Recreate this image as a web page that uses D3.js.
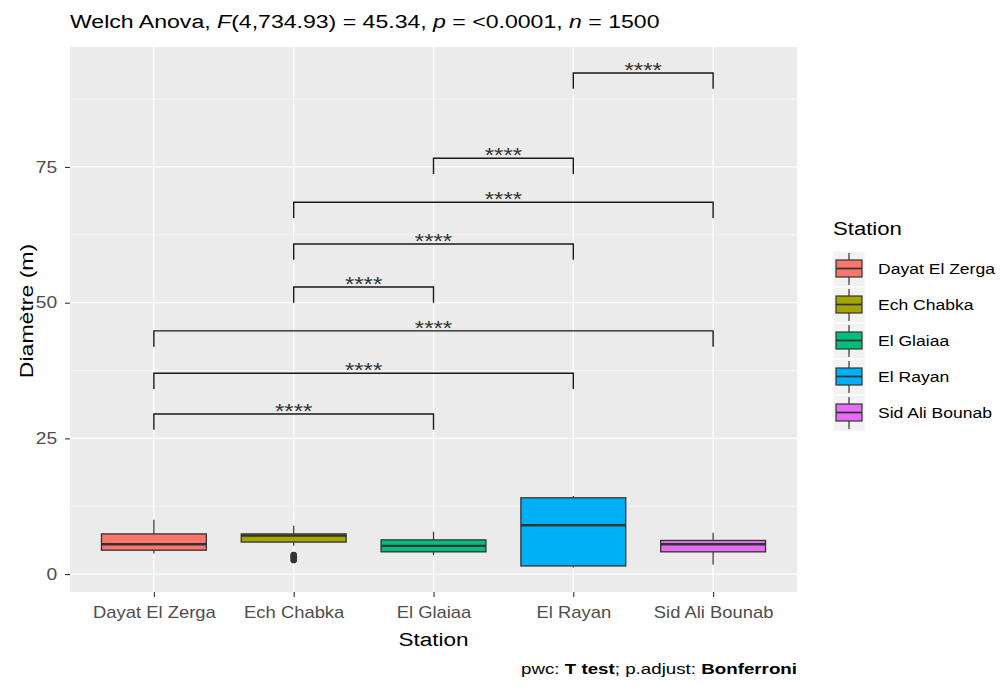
<!DOCTYPE html>
<html>
<head>
<meta charset="utf-8">
<script src="https://d3js.org/d3.v7.min.js"></script>
<style>
  body { margin: 0; background: #fff; }
  text { font-family: "Liberation Sans", Arial, sans-serif; }
</style>
</head>
<body>
<svg id="chart" width="1005" height="686"></svg>
<script>
// --- data ---
const stations = ["Dayat El Zerga", "Ech Chabka", "El Glaiaa", "El Rayan", "Sid Ali Bounab"];
const fills = ["#F8766D", "#A3A500", "#00BF7D", "#00B0F6", "#E76BF3"];
const whiskerLow = [3.8, 5.2, 3.5, 1.2, 1.7];
const q1 = [4.4, 5.9, 4.1, 1.5, 4.1];
const medians = [5.5, 7.1, 5.2, 9.0, 5.5];
const q3 = [7.4, 7.4, 6.3, 14.05, 6.2];
const whiskerHigh = [10.0, 8.9, 7.8, 14.4, 7.6];
const outlierStation = ["Ech Chabka", "Ech Chabka", "Ech Chabka"];
const outlierValue = [2.6, 3.1, 3.5];

// pairwise comparisons (brackets)
const group1 = ["Dayat El Zerga", "Dayat El Zerga", "Dayat El Zerga", "Ech Chabka", "Ech Chabka", "Ech Chabka", "El Glaiaa", "El Rayan"];
const group2 = ["El Glaiaa", "El Rayan", "Sid Ali Bounab", "El Glaiaa", "El Rayan", "Sid Ali Bounab", "El Rayan", "Sid Ali Bounab"];
const bracketY = [29.5, 37.0, 44.8, 52.9, 60.8, 68.5, 76.6, 92.3];
const signif = ["****", "****", "****", "****", "****", "****", "****", "****"];
const tipLength = 2.9;

const yTicks = [0, 25, 50, 75];
const yMinor = [12.5, 37.5, 62.5, 87.5];

// --- layout ---
const svg = d3.select("#chart");
const panel = { left: 70, right: 797, top: 47, bottom: 592 };

const x = d3.scalePoint().domain(stations).range([panel.left, panel.right]).padding(0.6);
const y = d3.scaleLinear().domain([-3.3, 97.1]).range([panel.bottom, panel.top]);
const boxW = x.step() * 0.75;

// text in the reference is a bit wider than Liberation Sans, so stretch it
function placeText(parent, px, py, k, rotate) {
  const t = parent.append("text").attr("x", 0).attr("y", 0)
    .attr("transform", `translate(${px},${py})${rotate ? ` rotate(${rotate})` : ""} scale(${k},1)`);
  return t;
}

// panel background + grid
svg.append("rect")
  .attr("x", panel.left).attr("y", panel.top)
  .attr("width", panel.right - panel.left).attr("height", panel.bottom - panel.top)
  .attr("fill", "#EBEBEB");

svg.selectAll("line.minor").data(yMinor).join("line")
  .attr("class", "minor")
  .attr("x1", panel.left).attr("x2", panel.right)
  .attr("y1", d => y(d)).attr("y2", d => y(d))
  .attr("stroke", "#fff").attr("stroke-width", 0.6);

svg.selectAll("line.majory").data(yTicks).join("line")
  .attr("class", "majory")
  .attr("x1", panel.left).attr("x2", panel.right)
  .attr("y1", d => y(d)).attr("y2", d => y(d))
  .attr("stroke", "#fff").attr("stroke-width", 1.2);

svg.selectAll("line.majorx").data(stations).join("line")
  .attr("class", "majorx")
  .attr("x1", d => x(d)).attr("x2", d => x(d))
  .attr("y1", panel.top).attr("y2", panel.bottom)
  .attr("stroke", "#fff").attr("stroke-width", 1.2);

// boxes
const boxes = stations.map((s, i) => ({
  station: s, fill: fills[i],
  lo: whiskerLow[i], q1: q1[i], med: medians[i], q3: q3[i], hi: whiskerHigh[i]
}));

const g = svg.append("g");
const bx = g.selectAll("g.box").data(boxes).join("g").attr("class", "box");
bx.append("line")
  .attr("x1", d => x(d.station)).attr("x2", d => x(d.station))
  .attr("y1", d => y(d.hi)).attr("y2", d => y(d.q3))
  .attr("stroke", "#333").attr("stroke-width", 1.2);
bx.append("line")
  .attr("x1", d => x(d.station)).attr("x2", d => x(d.station))
  .attr("y1", d => y(d.q1)).attr("y2", d => y(d.lo))
  .attr("stroke", "#333").attr("stroke-width", 1.2);
bx.append("rect")
  .attr("x", d => x(d.station) - boxW / 2).attr("width", boxW)
  .attr("y", d => y(d.q3)).attr("height", d => y(d.q1) - y(d.q3))
  .attr("fill", d => d.fill).attr("stroke", "#333").attr("stroke-width", 1.3);
bx.append("line")
  .attr("x1", d => x(d.station) - boxW / 2).attr("x2", d => x(d.station) + boxW / 2)
  .attr("y1", d => y(d.med)).attr("y2", d => y(d.med))
  .attr("stroke", "#333").attr("stroke-width", 2.3);

g.selectAll("circle.outlier").data(outlierValue).join("circle")
  .attr("class", "outlier")
  .attr("cx", (d, i) => x(outlierStation[i])).attr("cy", d => y(d))
  .attr("r", 3.4).attr("fill", "#333");

// significance brackets
const brackets = group1.map((a, i) => ({ a, b: group2[i], yv: bracketY[i], label: signif[i] }));
const br = svg.append("g").selectAll("g").data(brackets).join("g");
br.append("path")
  .attr("d", d => `M${x(d.a)},${y(d.yv - tipLength)}V${y(d.yv)}H${x(d.b)}V${y(d.yv - tipLength)}`)
  .attr("fill", "none").attr("stroke", "#1a1a1a").attr("stroke-width", 1.4);
br.each(function (d) {
  placeText(d3.select(this), (x(d.a) + x(d.b)) / 2, y(d.yv) + 4, 1.2)
    .attr("text-anchor", "middle").attr("font-size", 20).attr("fill", "#333")
    .text(d.label);
});

// axes
const yAxis = svg.append("g").attr("transform", `translate(${panel.left},0)`)
  .call(d3.axisLeft(y).tickValues(yTicks).tickSize(5).tickPadding(4));
const xAxis = svg.append("g").attr("transform", `translate(0,${panel.bottom})`)
  .call(d3.axisBottom(x).tickSize(5).tickPadding(10));
[yAxis, xAxis].forEach(a => {
  a.select(".domain").remove();
  a.selectAll(".tick line").attr("stroke", "#333").attr("stroke-width", 1.1);
  a.selectAll(".tick text").attr("fill", "#4D4D4D").attr("font-size", 16)
    .attr("font-family", "Liberation Sans, Arial, sans-serif");
});
xAxis.selectAll(".tick text").attr("transform", "scale(1.15,1)");
yAxis.selectAll(".tick text").attr("transform", "translate(-2,0) scale(1.2,1)");

placeText(svg, (panel.left + panel.right) / 2, 646, 1.25)
  .attr("text-anchor", "middle").attr("font-size", 18).attr("fill", "#000")
  .text("Station");
placeText(svg, 33, 311, 1.28, -90)
  .attr("text-anchor", "middle").attr("font-size", 18).attr("fill", "#000")
  .text("Diamètre (m)");

// title
const title = placeText(svg, panel.left, 28, 1.215).attr("font-size", 19).attr("fill", "#000");
title.append("tspan").text("Welch Anova, ");
title.append("tspan").attr("font-style", "italic").text("F");
title.append("tspan").text("(4,734.93) = 45.34, ");
title.append("tspan").attr("font-style", "italic").text("p");
title.append("tspan").text(" = <0.0001, ");
title.append("tspan").attr("font-style", "italic").text("n");
title.append("tspan").text(" = 1500");

// caption
const cap = placeText(svg, panel.right, 674, 1.25)
  .attr("text-anchor", "end").attr("font-size", 15).attr("fill", "#000");
cap.append("tspan").text("pwc: ");
cap.append("tspan").attr("font-weight", "bold").text("T test");
cap.append("tspan").text("; p.adjust: ");
cap.append("tspan").attr("font-weight", "bold").text("Bonferroni");

// legend
const leg = svg.append("g").attr("transform", "translate(833,0)");
placeText(leg, 0, 235, 1.23).attr("font-size", 18).attr("fill", "#000").text("Station");
const keyH = 36;
const items = leg.selectAll("g.item").data(boxes).join("g").attr("class", "item")
  .attr("transform", (d, i) => `translate(0,${251 + i * keyH})`);
items.append("rect").attr("width", 32).attr("height", keyH).attr("fill", "#F2F2F2").attr("stroke", "#fff");
items.append("line").attr("x1", 16).attr("x2", 16).attr("y1", 2).attr("y2", keyH - 2)
  .attr("stroke", "#333").attr("stroke-width", 1.2);
items.append("rect").attr("x", 3).attr("y", 9).attr("width", 26).attr("height", 17)
  .attr("fill", d => d.fill).attr("stroke", "#333").attr("stroke-width", 1.2);
items.append("line").attr("x1", 3).attr("x2", 29).attr("y1", 17.5).attr("y2", 17.5)
  .attr("stroke", "#333").attr("stroke-width", 1.7);
items.each(function (d) {
  placeText(d3.select(this), 45, 18, 1.17).attr("dy", "0.35em")
    .attr("font-size", 15).attr("fill", "#000").text(d.station);
});
</script>
</body>
</html>
